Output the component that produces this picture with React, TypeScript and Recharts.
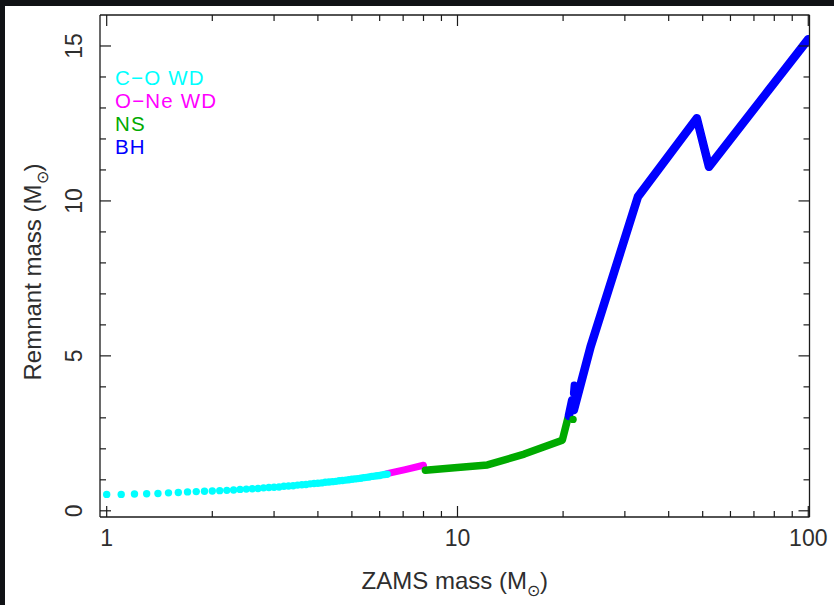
import React from 'react';
import { ComposedChart, Line, Scatter, XAxis, YAxis, Legend, Label } from 'recharts';

/* ── Data (ZAMS mass vs remnant mass, both in Msun) ── */
const CO_MASS = [
  1.0, 1.1, 1.2, 1.3, 1.4, 1.5, 1.6, 1.7, 1.8, 1.9,
  2.0, 2.1, 2.2, 2.3, 2.4, 2.5, 2.6, 2.7, 2.8, 2.9,
  3.0, 3.1, 3.2, 3.3, 3.4, 3.5, 3.6, 3.7, 3.8, 3.9,
  4.0, 4.1, 4.2, 4.3, 4.4, 4.5, 4.6, 4.7, 4.8, 4.9,
  5.0, 5.1, 5.2, 5.3, 5.4, 5.5, 5.6, 5.7, 5.8, 5.9,
  6.0, 6.1, 6.2, 6.3,
];
const CO_REMNANT = [
  0.53, 0.53, 0.54, 0.55, 0.56, 0.58, 0.59, 0.61, 0.62, 0.63,
  0.64, 0.65, 0.66, 0.67, 0.69, 0.7, 0.71, 0.72, 0.74, 0.75,
  0.76, 0.77, 0.79, 0.8, 0.81, 0.83, 0.84, 0.85, 0.87, 0.88,
  0.89, 0.9, 0.92, 0.93, 0.94, 0.95, 0.97, 0.98, 0.99, 1.0,
  1.02, 1.03, 1.04, 1.05, 1.07, 1.08, 1.09, 1.11, 1.12, 1.13,
  1.14, 1.16, 1.17, 1.18,
];

const ONE_MASS = [6.3, 7.1, 8.0];
const ONE_REMNANT = [1.2, 1.33, 1.47];

const NS_MASS = [8.1, 10.0, 12.17, 15.5, 19.9, 20.63];
const NS_REMNANT = [1.31, 1.4, 1.48, 1.83, 2.28, 2.98];
const NS_EXTRA_MASS = [21.35];
const NS_EXTRA_REMNANT = [2.95];

const BH_LOW_MASS = [20.77, 21.23];
const BH_LOW_REMNANT = [3.06, 3.57];
const BH_DASH_MASS = [21.4, 21.5];
const BH_DASH_REMNANT = [3.79, 4.06];
const BH_MASS = [21.46, 23.95, 32.7, 48.1, 52.1, 100];
const BH_REMNANT = [3.25, 5.29, 10.14, 12.67, 11.1, 15.22];

const X_TICKS = [1, 2, 3, 4, 5, 6, 7, 8, 9, 10, 20, 30, 40, 50, 60, 70, 80, 90, 100];
const X_LABELS = [1, 10, 100];
const Y_TICKS = [0, 1, 2, 3, 4, 5, 6, 7, 8, 9, 10, 11, 12, 13, 14, 15];
const Y_LABELS = [0, 5, 10, 15];

const X_DOMAIN = [0.957, 100.8];
const Y_DOMAIN = [-0.2, 16.0];

const LEGEND_ITEMS = [
  { label: 'C\u2212O WD', color: '#00ffff' },
  { label: 'O\u2212Ne WD', color: '#ff00ff' },
  { label: 'NS', color: '#00aa00' },
  { label: 'BH', color: '#0000ff' },
];

const zip = (xs: number[], ys: number[]) => xs.map((m, i) => ({ m, r: ys[i] }));

/* ── Style ── */
const FONT = "'Liberation Sans', Arial, sans-serif";
const INK = '#1a1a1a';
const TEXT = '#2e2e2e';
const MAJOR = 11;
const MINOR = 6;

const tickText = { fontFamily: FONT, fontSize: 23, fill: TEXT } as const;

/* ── Tick renderers: ticks point into the frame, PGPLOT style ── */
function BottomTick(props: any) {
  const { x, y, payload } = props;
  const major = X_LABELS.includes(payload.value);
  return (
    <g>
      <line x1={x} y1={y} x2={x} y2={y - (major ? MAJOR : MINOR)} stroke={INK} strokeWidth={1.2} />
      {major && (
        <text x={x} y={y + 29} textAnchor="middle" {...tickText}>
          {payload.value}
        </text>
      )}
    </g>
  );
}

function TopTick(props: any) {
  const { x, y, payload } = props;
  const major = X_LABELS.includes(payload.value);
  return <line x1={x} y1={y} x2={x} y2={y + (major ? MAJOR : MINOR)} stroke={INK} strokeWidth={1.2} />;
}

function LeftTick(props: any) {
  const { x, y, payload } = props;
  const major = Y_LABELS.includes(payload.value);
  return (
    <g>
      <line x1={x} y1={y} x2={x + (major ? MAJOR : MINOR)} y2={y} stroke={INK} strokeWidth={1.2} />
      {major && (
        <text transform={`translate(${x - 18},${y}) rotate(-90)`} textAnchor="middle" {...tickText}>
          {payload.value}
        </text>
      )}
    </g>
  );
}

function RightTick(props: any) {
  const { x, y, payload } = props;
  const major = Y_LABELS.includes(payload.value);
  return <line x1={x} y1={y} x2={x - (major ? MAJOR : MINOR)} y2={y} stroke={INK} strokeWidth={1.2} />;
}

function XTitle(props: any) {
  const vb = props.viewBox;
  return (
    <text x={vb.x + vb.width / 2} y={vb.y + 72} textAnchor="middle" fontFamily={FONT} fontSize={24} fill={TEXT}>
      ZAMS mass (M
      <tspan dy={7} fontSize={16}>{'\u2299'}</tspan>
      <tspan dy={-7}>)</tspan>
    </text>
  );
}

function YTitle(props: any) {
  const vb = props.viewBox;
  const cx = vb.x + vb.width - 59;
  const cy = vb.y + vb.height / 2 + 6;
  return (
    <text transform={`translate(${cx},${cy}) rotate(-90)`} textAnchor="middle" fontFamily={FONT} fontSize={24} fill={TEXT}>
      Remnant mass (M
      <tspan dy={7} fontSize={16}>{'\u2299'}</tspan>
      <tspan dy={-7}>)</tspan>
    </text>
  );
}

function LegendBox() {
  return (
    <div style={{ fontFamily: FONT, fontSize: 20.5, lineHeight: '23px', letterSpacing: 1.2 }}>
      {LEGEND_ITEMS.map((it) => (
        <div key={it.label} style={{ color: it.color, whiteSpace: 'pre', height: 23 }}>
          {it.label}
        </div>
      ))}
    </div>
  );
}

const Dot = (color: string) => (p: any) => <circle cx={p.cx} cy={p.cy} r={3.7} fill={color} />;

export default function App() {
  const axisLine = { stroke: INK, strokeWidth: 1.3 };
  const series = { xAxisId: 'bottom', yAxisId: 'left', isAnimationActive: false } as const;
  const lineProps = {
    ...series,
    type: 'linear' as const,
    dataKey: 'r',
    dot: false,
    activeDot: false,
    strokeLinecap: 'round' as const,
    strokeLinejoin: 'round' as const,
  };

  return (
    <div style={{ position: 'absolute', left: 0, top: 0, width: 834, height: 605, background: '#101215' }}>
      <div style={{ position: 'absolute', left: 5, top: 6, width: 829, height: 599, background: '#ffffff' }} />
      <div style={{ position: 'absolute', left: 0, top: 0 }}>
        <ComposedChart width={834} height={605} margin={{ top: 14, right: 23.5, bottom: 87, left: 99 }}>
          <XAxis
            xAxisId="bottom"
            dataKey="m"
            type="number"
            scale="log"
            domain={X_DOMAIN}
            allowDataOverflow
            ticks={X_TICKS}
            interval={0}
            tick={<BottomTick />}
            tickLine={false}
            tickSize={0}
            tickMargin={0}
            axisLine={axisLine}
            height={1}
          >
            <Label content={XTitle} />
          </XAxis>
          <XAxis
            xAxisId="top"
            orientation="top"
            dataKey="m"
            type="number"
            scale="log"
            domain={X_DOMAIN}
            allowDataOverflow
            ticks={X_TICKS}
            interval={0}
            tick={<TopTick />}
            tickLine={false}
            tickSize={0}
            tickMargin={0}
            axisLine={axisLine}
            height={1}
          />
          <YAxis
            yAxisId="left"
            dataKey="r"
            type="number"
            domain={Y_DOMAIN}
            allowDataOverflow
            ticks={Y_TICKS}
            interval={0}
            tick={<LeftTick />}
            tickLine={false}
            tickSize={0}
            tickMargin={0}
            axisLine={axisLine}
            width={1}
          >
            <Label content={YTitle} />
          </YAxis>
          <YAxis
            yAxisId="right"
            orientation="right"
            dataKey="r"
            type="number"
            domain={Y_DOMAIN}
            allowDataOverflow
            ticks={Y_TICKS}
            interval={0}
            tick={<RightTick />}
            tickLine={false}
            tickSize={0}
            tickMargin={0}
            axisLine={axisLine}
            width={1}
          />

          <Scatter {...series} data={zip(CO_MASS, CO_REMNANT)} dataKey="r" shape={Dot('#00ffff')} />
          <Line {...lineProps} data={zip(ONE_MASS, ONE_REMNANT)} stroke="#ff00ff" strokeWidth={7} />
          <Line {...lineProps} data={zip(NS_MASS, NS_REMNANT)} stroke="#00aa00" strokeWidth={7.5} />
          <Scatter {...series} data={zip(NS_EXTRA_MASS, NS_EXTRA_REMNANT)} dataKey="r" shape={Dot('#00aa00')} />
          <Line {...lineProps} data={zip(BH_LOW_MASS, BH_LOW_REMNANT)} stroke="#0000ff" strokeWidth={8.5} />
          <Line {...lineProps} data={zip(BH_DASH_MASS, BH_DASH_REMNANT)} stroke="#0000ff" strokeWidth={7} />
          <Line {...lineProps} data={zip(BH_MASS, BH_REMNANT)} stroke="#0000ff" strokeWidth={8.5} />

          <Legend
            layout="vertical"
            align="center"
            verticalAlign="middle"
            content={<LegendBox />}
            wrapperStyle={{ left: 115, top: 66, width: 'auto', height: 'auto' }}
          />
        </ComposedChart>
      </div>
    </div>
  );
}
